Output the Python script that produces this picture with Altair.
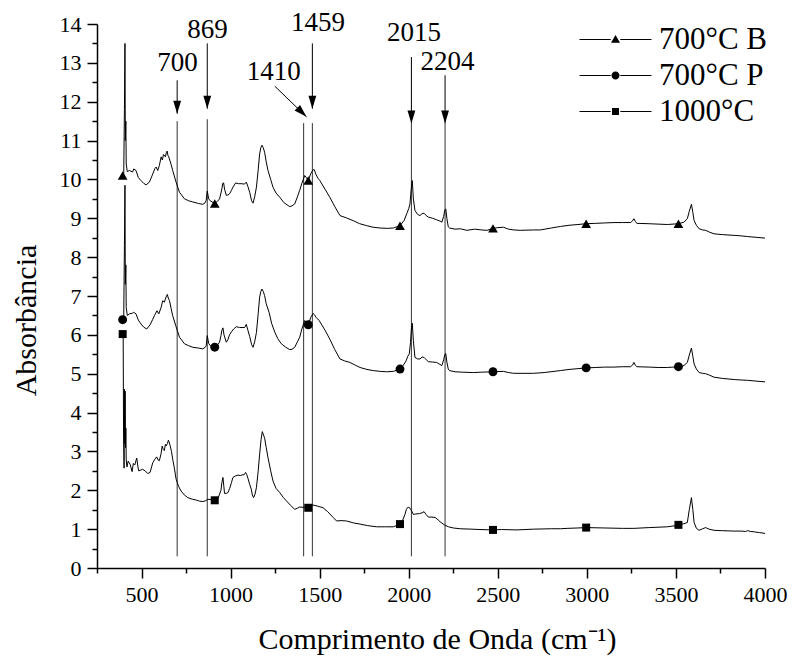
import altair as alt
import numpy as np
import pandas as pd

# ---------------- data ----------------
series_names = ["700°C B", "700°C P", "1000°C"]

wn_b = [394, 400, 404, 407, 409, 412, 414, 420, 432, 450, 456, 469, 482, 497, 512, 526, 544, 563, 575, 582,
        591, 600, 610, 617, 623, 634, 640, 644, 648, 653, 665, 675, 694, 713, 741, 765, 788, 820, 844, 857,
        863, 869, 877, 886, 904, 911, 925, 938, 946, 951, 956, 961, 966, 976, 985, 994, 1005, 1013, 1028, 1045,
        1060, 1078, 1088, 1097, 1107, 1118, 1126, 1135, 1145, 1155, 1163, 1170, 1176, 1183, 1191, 1200, 1210, 1225, 1238, 1255,
        1276, 1300, 1332, 1345, 1360, 1375, 1388, 1400, 1416, 1425, 1436, 1450, 1463, 1470, 1480, 1492, 1501, 1530, 1557, 1585,
        1614, 1650, 1688, 1725, 1764, 1800, 1839, 1880, 1914, 1951, 1975, 1989, 2000, 2007, 2014, 2020, 2026, 2035, 2050, 2063,
        2075, 2086, 2098, 2110, 2135, 2157, 2175, 2186, 2196, 2203, 2208, 2214, 2222, 2229, 2260, 2290, 2326, 2370, 2410, 2439,
        2473, 2500, 2532, 2560, 2590, 2626, 2701, 2739, 2800, 2852, 2900, 2950, 2996, 3050, 3100, 3152, 3200, 3245, 3256, 3264,
        3272, 3280, 3350, 3400, 3452, 3514, 3545, 3564, 3575, 3587, 3595, 3602, 3615, 3630, 3650, 3667, 3690, 3714, 3760, 3827,
        3860, 3902, 3950, 4000]
ab_b = [10.10, 10.15, 11.8, 13.50, 11.0, 11.5, 10.4, 10.2, 10.23, 10.19, 10.27, 10.23, 10.05, 9.97, 9.90, 9.86, 9.93, 10.14, 10.28, 10.32,
        10.23, 10.36, 10.58, 10.50, 10.64, 10.58, 10.70, 10.73, 10.62, 10.58, 10.40, 10.23, 9.93, 9.67, 9.50, 9.45, 9.42, 9.38, 9.36, 9.40,
        9.46, 9.70, 9.50, 9.45, 9.40, 9.38, 9.43, 9.50, 9.65, 9.76, 9.90, 9.91, 9.75, 9.59, 9.60, 9.63, 9.72, 9.80, 9.91, 9.89,
        9.89, 9.88, 9.93, 9.82, 9.67, 9.45, 9.39, 9.55, 9.80, 10.25, 10.66, 10.82, 10.88, 10.82, 10.70, 10.45, 10.23, 10.00, 9.80, 9.65,
        9.54, 9.40, 9.30, 9.32, 9.37, 9.55, 9.72, 9.90, 10.10, 10.05, 9.97, 10.15, 10.25, 10.25, 10.12, 10.02, 9.97, 9.75, 9.54, 9.30,
        9.07, 9.01, 8.94, 8.86, 8.81, 8.77, 8.75, 8.74, 8.75, 8.81, 8.95, 9.12, 9.25, 9.37, 9.75, 9.97, 9.50, 9.20, 9.10, 9.07,
        9.12, 9.13, 9.07, 9.03, 9.00, 8.96, 8.93, 8.90, 9.05, 9.22, 9.24, 9.00, 8.78, 8.75, 8.72, 8.73, 8.69, 8.72, 8.70, 8.69,
        8.74, 8.76, 8.77, 8.72, 8.70, 8.69, 8.70, 8.70, 8.75, 8.79, 8.82, 8.84, 8.86, 8.87, 8.88, 8.89, 8.89, 8.89, 8.93, 8.99,
        8.92, 8.87, 8.86, 8.85, 8.84, 8.86, 8.90, 8.99, 9.18, 9.36, 9.15, 8.94, 8.82, 8.73, 8.70, 8.69, 8.64, 8.60, 8.58, 8.56,
        8.55, 8.53, 8.51, 8.49]

wn_p = [394, 400, 404, 407, 409, 412, 414, 420, 432, 450, 456, 469, 482, 497, 512, 529, 548, 563, 572, 587,
        597, 610, 619, 628, 634, 640, 645, 650, 657, 665, 675, 694, 713, 741, 765, 788, 820, 844, 857, 863,
        869, 877, 886, 904, 914, 925, 938, 946, 951, 957, 963, 976, 985, 994, 1005, 1017, 1032, 1050, 1079, 1088,
        1097, 1107, 1118, 1126, 1135, 1145, 1155, 1163, 1170, 1176, 1183, 1191, 1200, 1216, 1230, 1248, 1265, 1285, 1310, 1332,
        1345, 1360, 1375, 1388, 1400, 1416, 1425, 1436, 1450, 1463, 1470, 1480, 1497, 1530, 1557, 1585, 1614, 1640, 1670, 1700,
        1727, 1765, 1801, 1840, 1876, 1914, 1951, 1970, 1985, 1995, 2003, 2010, 2015, 2020, 2026, 2035, 2050, 2063, 2075, 2086,
        2098, 2110, 2135, 2157, 2175, 2186, 2196, 2203, 2208, 2214, 2222, 2229, 2260, 2300, 2363, 2410, 2473, 2532, 2560, 2589,
        2608, 2701, 2760, 2851, 2900, 2950, 2996, 3050, 3100, 3152, 3200, 3245, 3256, 3264, 3272, 3280, 3350, 3400, 3452, 3514,
        3545, 3564, 3575, 3587, 3595, 3602, 3615, 3630, 3650, 3667, 3690, 3714, 3760, 3827, 3860, 3902, 3950, 4000]
ab_p = [6.39, 6.45, 8.3, 9.85, 7.3, 7.8, 6.7, 6.5, 6.54, 6.56, 6.58, 6.54, 6.38, 6.28, 6.20, 6.15, 6.26, 6.40, 6.49, 6.62,
        6.54, 6.71, 6.88, 6.84, 6.92, 7.00, 7.04, 6.95, 6.88, 6.70, 6.49, 6.21, 5.94, 5.77, 5.72, 5.68, 5.66, 5.64, 5.68, 5.72,
        5.98, 5.78, 5.72, 5.69, 5.68, 5.73, 5.81, 5.98, 6.12, 6.18, 6.00, 5.81, 5.88, 6.00, 6.08, 6.15, 6.21, 6.19, 6.19, 6.27,
        6.12, 5.96, 5.75, 5.68, 5.82, 6.06, 6.55, 6.97, 7.12, 7.18, 7.12, 7.01, 6.80, 6.58, 6.30, 6.07, 5.90, 5.77, 5.68, 5.62,
        5.63, 5.68, 5.82, 5.94, 6.15, 6.37, 6.32, 6.26, 6.45, 6.55, 6.52, 6.45, 6.37, 6.12, 5.89, 5.62, 5.38, 5.33, 5.29, 5.22,
        5.16, 5.11, 5.08, 5.06, 5.05, 5.06, 5.12, 5.22, 5.33, 5.45, 5.51, 5.80, 6.15, 6.30, 5.85, 5.42, 5.38, 5.38, 5.43, 5.42,
        5.36, 5.31, 5.30, 5.29, 5.24, 5.21, 5.36, 5.50, 5.52, 5.30, 5.12, 5.08, 5.05, 5.04, 5.03, 5.04, 5.05, 5.06, 5.03, 5.01,
        5.01, 5.01, 5.03, 5.08, 5.11, 5.13, 5.15, 5.16, 5.17, 5.17, 5.18, 5.18, 5.22, 5.29, 5.22, 5.18, 5.17, 5.16, 5.16, 5.18,
        5.21, 5.29, 5.48, 5.66, 5.45, 5.25, 5.12, 5.03, 5.01, 5.00, 4.96, 4.91, 4.88, 4.85, 4.84, 4.83, 4.81, 4.79]

wn_c = [394, 397, 399, 402, 404, 406, 408, 410, 412, 414, 418, 425, 436, 447, 454, 462, 473, 480, 484, 495,
        506, 520, 535, 548, 563, 575, 585, 593, 600, 610, 616, 622, 628, 634, 637, 645, 651, 656, 660, 668,
        675, 685, 694, 708, 722, 740, 760, 785, 807, 825, 844, 860, 872, 890, 914, 930, 938, 946, 951, 957,
        962, 966, 975, 985, 995, 1005, 1013, 1027, 1041, 1055, 1069, 1076, 1084, 1091, 1098, 1107, 1116, 1122, 1129, 1137,
        1145, 1155, 1163, 1171, 1178, 1185, 1191, 1200, 1210, 1225, 1238, 1255, 1276, 1295, 1313, 1335, 1360, 1375, 1388, 1410,
        1436, 1450, 1463, 1490, 1519, 1545, 1576, 1595, 1620, 1651, 1690, 1727, 1770, 1820, 1870, 1914, 1951, 1965, 1979, 1986,
        1992, 2000, 2007, 2015, 2026, 2040, 2060, 2075, 2086, 2097, 2110, 2130, 2148, 2165, 2176, 2200, 2223, 2250, 2289, 2350,
        2400, 2473, 2520, 2608, 2701, 2800, 2851, 2889, 2950, 2996, 3100, 3200, 3264, 3350, 3452, 3500, 3514, 3545, 3564, 3575,
        3587, 3595, 3602, 3615, 3630, 3650, 3667, 3686, 3714, 3760, 3827, 3870, 3890, 3902, 3920, 3940, 3970, 4000]
ab_c = [6.02, 6.00, 3.5, 2.57, 4.6, 3.2, 4.55, 3.1, 3.6, 2.8, 2.6, 2.75, 2.67, 2.48, 2.69, 2.65, 2.83, 2.60, 2.50, 2.52,
        2.54, 2.50, 2.43, 2.46, 2.71, 2.80, 2.86, 2.78, 2.76, 2.95, 3.14, 3.05, 3.02, 3.18, 3.14, 3.20, 3.29, 3.22, 3.16, 3.00,
        2.80, 2.55, 2.29, 2.10, 1.98, 1.88, 1.81, 1.77, 1.75, 1.72, 1.71, 1.73, 1.77, 1.76, 1.74, 1.80, 1.90, 2.00, 2.20, 2.33,
        2.10, 1.92, 1.92, 1.94, 2.05, 2.20, 2.33, 2.37, 2.39, 2.38, 2.40, 2.40, 2.46, 2.40, 2.30, 2.15, 2.03, 1.88, 1.81, 1.90,
        2.07, 2.50, 2.93, 3.30, 3.51, 3.42, 3.34, 3.10, 2.84, 2.50, 2.24, 2.05, 1.94, 1.82, 1.73, 1.62, 1.51, 1.54, 1.57, 1.56,
        1.55, 1.60, 1.62, 1.59, 1.55, 1.45, 1.30, 1.21, 1.22, 1.21, 1.16, 1.13, 1.09, 1.06, 1.06, 1.06, 1.13, 1.22, 1.38, 1.50,
        1.55, 1.56, 1.54, 1.48, 1.38, 1.39, 1.40, 1.42, 1.45, 1.38, 1.31, 1.31, 1.30, 1.24, 1.19, 1.11, 1.06, 1.03, 1.01, 1.00,
        0.99, 0.98, 0.99, 0.98, 1.00, 1.01, 1.01, 1.02, 1.03, 1.04, 1.03, 1.02, 1.02, 1.04, 1.06, 1.09, 1.11, 1.14, 1.17, 1.50,
        1.81, 1.50, 1.17, 1.02, 0.97, 1.01, 1.04, 1.00, 0.97, 0.96, 0.95, 0.95, 0.94, 0.96, 0.94, 0.93, 0.91, 0.89]

marker_wn = [394, 911, 1436, 1951, 2473, 2996, 3514]

# annotations (peak markers)
peak_wn = [700, 869, 1410, 1459, 2015, 2204]
peak_labels = ["700", "869", "1410", "1459", "2015", "2204"]
peak_line_top = [11.50, 11.55, 11.45, 11.45, 11.44, 11.44]
peak_line_bottom = [0.30, 0.30, 0.30, 0.30, 0.30, 0.30]
label_x = [702, 871, 1242, 1490, 2030, 2218]
label_y = [12.99, 13.84, 12.76, 14.02, 13.76, 13.02]
arrow_x1 = [700, 869, 1248, 1459, 2015, 2204]
arrow_y1 = [12.55, 13.50, 12.40, 13.50, 13.15, 12.68]
arrow_x2 = [700, 869, 1426, 1459, 2015, 2204]
arrow_y2 = [11.69, 11.82, 11.61, 11.82, 11.44, 11.44]
arrow_angle = [0, 0, 315, 0, 0, 0]

x_major = [500, 1000, 1500, 2000, 2500, 3000, 3500, 4000]
x_minor = [250, 750, 1250, 1750, 2250, 2750, 3250, 3750]
y_major = list(range(0, 15))
y_minor = [v + 0.5 for v in range(0, 14)]

# ---------------- tables ----------------
rows = []
mk_rows = []
for name, xs_, ys_ in zip(series_names, [wn_b, wn_p, wn_c], [ab_b, ab_p, ab_c]):
    for a, b in zip(xs_, ys_):
        rows.append({"series": name, "wn": a, "ab": b})
    for m in marker_wn:
        mk_rows.append({"series": name, "wn": m, "ab": float(np.interp(m, xs_, ys_))})
spec_df = pd.DataFrame(rows)
mk_df = pd.DataFrame(mk_rows)

ann_df = pd.DataFrame({
    "peak": peak_wn, "label": peak_labels, "top": peak_line_top, "bottom": peak_line_bottom,
    "lx": label_x, "ly": label_y, "ax1": arrow_x1, "ay1": arrow_y1, "ax2": arrow_x2, "ay2": arrow_y2,
    "angle": arrow_angle,
})

FONT = "Times New Roman, Liberation Serif, serif"
xs = alt.Scale(domain=[250, 4000], nice=False, zero=False)
ys = alt.Scale(domain=[0, 14], nice=False, zero=False)

# vertical reference lines (host the minor-tick axes)
vlines = alt.Chart(ann_df).mark_rule(color="#333333", strokeWidth=1).encode(
    x=alt.X("peak:Q", scale=xs, axis=alt.Axis(values=x_minor, labels=False, tickSize=5, domain=False,
                                            title=None, orient="bottom", grid=False)),
    y=alt.Y("bottom:Q", scale=ys, axis=alt.Axis(values=y_minor, labels=False, tickSize=5, domain=False,
                                             title=None, orient="left", grid=False)),
    y2="top:Q",
)

lines = alt.Chart(spec_df).mark_line(color="black", strokeWidth=1).encode(
    x=alt.X("wn:Q", scale=xs, axis=alt.Axis(values=x_major, format="d", title="Comprimento de Onda (cm⁻¹)",
                                          orient="bottom", tickSize=10, labelPadding=6, labelFlush=False,
                                          labelOverlap=False,
                                          titleX=340, titleY=80, titleBaseline="alphabetic",
                                          titleAlign="center")),
    y=alt.Y("ab:Q", scale=ys, axis=alt.Axis(values=y_major, format="d", title="Absorbância",
                                          orient="left", tickSize=10, labelPadding=6, labelFlush=False,
                                          labelOverlap=False,
                                          titleX=-62, titleY=296, titleBaseline="alphabetic",
                                          titleAlign="center", titleAngle=270)),
    detail="series:N",
)

markers = alt.Chart(mk_df).mark_point(filled=True, color="black", opacity=1).encode(
    x=alt.X("wn:Q", scale=xs, axis=None),
    y=alt.Y("ab:Q", scale=ys, axis=None),
    shape=alt.Shape("series:N", scale=alt.Scale(domain=series_names, range=["triangle-up", "circle", "square"]),
                    legend=None),
    size=alt.Size("series:N", scale=alt.Scale(domain=series_names, range=[95, 64, 56]), legend=None),
)

# legend symbols: a thin filled bar (the line) with the marker in its middle (custom SVG paths)
bar_l = "M-6,-0.09H-0.8V0.09H-6Z"
bar_r = "M0.8,-0.09H6V0.09H0.8Z"
leg_paths = [
    bar_l + bar_r + "M0,-0.75L0.75,0.55L-0.75,0.55Z",
    bar_l + bar_r + "M0.67,0A0.67,0.67,0,1,1,-0.67,0A0.67,0.67,0,1,1,0.67,0Z",
    bar_l + bar_r + "M-0.58,-0.58H0.58V0.58H-0.58Z",
]
legend_layer = alt.Chart(mk_df).transform_filter("datum.wn < 0").mark_point(
    filled=True, fill="black", strokeWidth=0, opacity=1, size=144
).encode(
    x=alt.X("wn:Q", scale=xs, axis=None),
    y=alt.Y("ab:Q", scale=ys, axis=None),
    shape=alt.Shape("series:N", scale=alt.Scale(domain=series_names, range=leg_paths),
                    legend=alt.Legend(title=None, orient="none", legendX=503, legendY=0,
                                      labelFont=FONT, labelFontSize=31, labelColor="black",
                                      labelOffset=28, rowPadding=4, padding=0, labelLimit=0,
                                      symbolSize=144, symbolStrokeWidth=0,
                                      symbolFillColor="black", symbolOpacity=1)),
)

arrows = alt.Chart(ann_df).mark_rule(color="black", strokeWidth=1).encode(
    x=alt.X("ax1:Q", scale=xs, axis=None), y=alt.Y("ay1:Q", scale=ys, axis=None),
    x2="ax2:Q", y2="ay2:Q",
)

heads = alt.Chart(ann_df).mark_point(
    filled=True, color="black", opacity=1, size=169, shape="M0,0L-0.6,-2L0.6,-2Z"
).encode(
    x=alt.X("ax2:Q", scale=xs, axis=None), y=alt.Y("ay2:Q", scale=ys, axis=None),
    angle=alt.Angle("angle:Q", scale=None),
)

labels = alt.Chart(ann_df).mark_text(font=FONT, fontSize=27, color="black", align="center",
                                     baseline="middle").encode(
    x=alt.X("lx:Q", scale=xs, axis=None), y=alt.Y("ly:Q", scale=ys, axis=None), text="label:N",
)

chart = alt.layer(vlines, lines, markers, legend_layer, arrows, heads, labels).resolve_scale(
    shape="independent", size="independent"
).resolve_axis(x="independent", y="independent").properties(
    width=668, height=544,
    padding={"left": 97, "top": 24, "right": 30, "bottom": 94},
    autosize=alt.AutoSizeParams(type="none"),
    background="white",
).configure_view(stroke=None).configure_axis(
    domainColor="black", domainWidth=1.5, tickColor="black", tickWidth=1.5,
    labelFont=FONT, labelFontSize=22, labelColor="black",
    titleFont=FONT, titleFontSize=30, titleFontWeight="normal", titleColor="black", grid=False,
).configure_text(font=FONT).configure_legend(labelFont=FONT)

chart.save("out.html", embed_options={"renderer": "svg", "actions": False})
